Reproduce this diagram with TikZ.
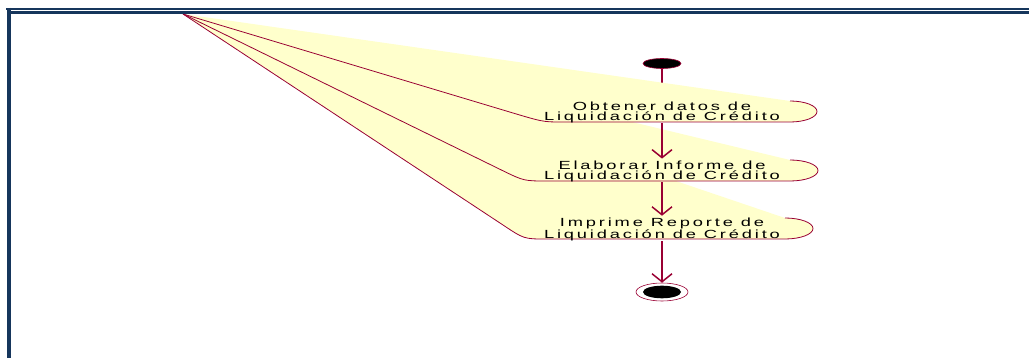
\documentclass[tikz,border=0pt]{standalone}
\usepackage{fontspec}
\usepackage{tikz}
\usetikzlibrary{arrows.meta, shapes.geometric, backgrounds}
\newfontfamily\rosefont[FakeStretch=1.55,LetterSpace=24]{Liberation Sans}
\definecolor{rosered}{RGB}{153,0,51}
\definecolor{actyellow}{RGB}{255,255,204}
\definecolor{framenavy}{RGB}{22,54,92}

\begin{document}
\begin{tikzpicture}[x=1pt,y=-1pt,
    actfill/.style={fill=actyellow,draw=none},
    actline/.style={draw=rosered,line width=0.8pt},
    acttext/.style={rectangle,inner sep=0pt,minimum width=250pt,minimum height=21pt,
                    align=center,font=\rosefont\fontsize{11.8}{10.4}\selectfont},
    flow/.style={-{Straight Barb[length=8pt,width=20pt]},line width=1.5pt,draw=rosered}]
  \useasboundingbox (0,0) rectangle (1029,358);
  \draw[framenavy,line width=2.2pt] (6,9) -- (1029,9);
  \draw[framenavy,line width=2.2pt] (8,12.5) -- (1029,12.5);
  \draw[framenavy,line width=3.8pt] (8.8,8) -- (8.8,358);

  \node[ellipse,fill=black,draw=rosered,line width=0.6pt,inner sep=0pt,
        minimum width=38pt,minimum height=10pt] (start) at (662,63.5) {};
  \node[acttext] (act1) at (662,112.5) {Obtener datos de\\Liquidación de Crédito};
  \node[acttext] (act2) at (662,171.5) {Elaborar Informe de\\Liquidación de Crédito};
  \node[acttext] (act3) at (662,229.5) {Imprime Reporte de\\Liquidación de Crédito};
  \node[ellipse,draw=rosered,line width=0.6pt,inner sep=0pt,
        minimum width=52pt,minimum height=18pt] (stop) at (662,292) {};
  \fill (stop.center) ellipse [x radius=19pt,y radius=6.3pt];

  \begin{scope}[on background layer]
    \draw[rosered,line width=1.5pt] (start.south) -- (act1.north);
    \fill[actfill] (183,14) -- (508,111.5) .. controls (543,122) .. (562,122) -- (790,122)
      arc[start angle=-90,end angle=90,x radius=27pt,y radius=10.5pt] -- cycle;
    \fill[actfill] (183,14) -- (503,170.8) .. controls (524,181) .. (548,181) -- (790,181)
      arc[start angle=-90,end angle=90,x radius=28pt,y radius=10.5pt] -- cycle;
    \fill[actfill] (183,14) -- (503,225) .. controls (524,239) .. (546,239) -- (785,239)
      arc[start angle=-90,end angle=90,x radius=28pt,y radius=10.5pt] -- cycle;
    \draw[actline] (183,14) -- (508,111.5) .. controls (543,122) .. (562,122) -- (790,122)
      arc[start angle=-90,end angle=90,x radius=27pt,y radius=10.5pt];
    \draw[actline] (183,14) -- (503,170.8) .. controls (524,181) .. (548,181) -- (790,181)
      arc[start angle=-90,end angle=90,x radius=28pt,y radius=10.5pt];
    \draw[actline] (183,14) -- (503,225) .. controls (524,239) .. (546,239) -- (785,239)
      arc[start angle=-90,end angle=90,x radius=28pt,y radius=10.5pt];
  \end{scope}
  \draw[flow,shorten >=2pt] (act1.south) -- (act2.north);
  \draw[flow,shorten >=2pt] (act2.south) -- (act3.north);
  \draw[flow] (act3.south) -- (stop.north);
\end{tikzpicture}
\end{document}
